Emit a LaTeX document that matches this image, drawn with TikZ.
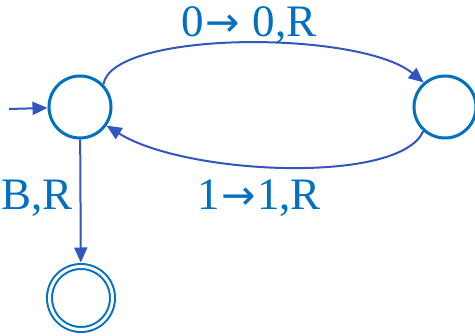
\documentclass[tikz,border=0pt]{standalone}
\usepackage{fontspec}
\setmainfont{Liberation Serif}
\newfontfamily\arrfont{DejaVu Sans}
\usetikzlibrary{arrows.meta}
\definecolor{statecol}{HTML}{0070C0}
\definecolor{edgecol}{HTML}{3355C0}
\newcommand{\myarr}{{\kern1.5pt\arrfont\fontsize{41}{48}\selectfont →\kern1.5pt}}
\begin{document}
\begin{tikzpicture}[x=1pt,y=-1pt,
  state/.style={circle,draw=statecol,line width=3pt,minimum size=62pt,inner sep=0pt},
  accept/.style={circle,draw=statecol,double,double distance=3pt,line width=2pt,minimum size=63pt,inner sep=0pt},
  edge/.style={draw=edgecol,line width=2pt,-{Triangle[length=15pt,width=13pt]}},
  lbl/.style={text=statecol,font=\fontsize{45}{48}\selectfont,inner sep=0pt,anchor=base}]
\useasboundingbox (0,0) rectangle (475,336);
\node[state] (q0) at (80,107) {};
\node[state] (q1) at (445,107) {};
\node[accept] (q2) at (81,298) {};
\coordinate (start) at (9,109);
\draw[edge] (start) -- (q0);
\draw[edge] (q0.44) .. controls (112,30) and (360,30) .. (q1.131);
\draw[edge] (q1.228) .. controls (400,185) and (185,175) .. (q0.-35);
\draw[edge,shorten >=3pt] (q0) -- (q2);
\node[lbl] (l1) at (249,37) {0\myarr{} 0,R};
\node[lbl] (l2) at (259,210) {1\myarr{}1,R};
\node[lbl,anchor=base west] (l3) at (1,210) {B,R};
\end{tikzpicture}
\end{document}
